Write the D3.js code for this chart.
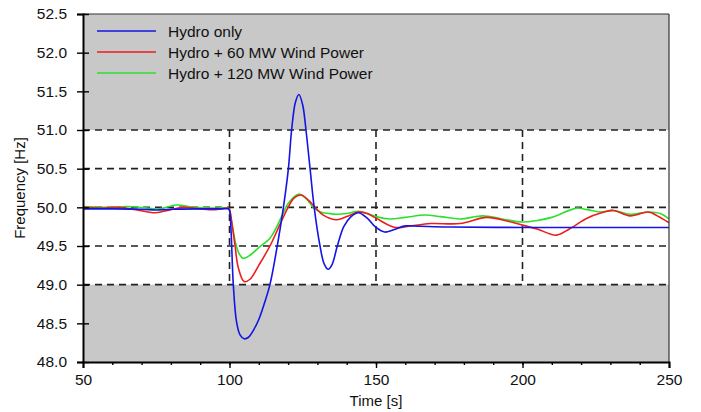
<!DOCTYPE html>
<html>
<head>
<meta charset="utf-8">
<script src="https://cdn.jsdelivr.net/npm/d3@7/dist/d3.min.js"></script>
<style>
  body { margin: 0; background: #fff; }
  svg text { font-family: "Liberation Sans", Arial, sans-serif; fill: #111; }
</style>
</head>
<body>
<div id="chart"></div>
<script>
// values
var xTicks = [50, 100, 150, 200, 250];
var yTicks = [48.0, 48.5, 49.0, 49.5, 50.0, 50.5, 51.0, 51.5, 52.0, 52.5];
var gridY = [49.0, 49.5, 50.0, 50.5, 51.0];
var gridX = [100, 150, 200];
var bandLow = 49.0, bandHigh = 51.0;

var seriesNames = ["Hydro only", "Hydro + 60 MW Wind Power", "Hydro + 120 MW Wind Power"];
var seriesColors = ["#1414e6", "#ee1c1c", "#2ee02e"];

var hydroTime = [50, 60, 70, 75, 80, 90, 97, 99.6, 100, 100.5, 101.3, 102.4, 103.6, 105, 106.5, 108, 110, 112, 113.8, 116.3, 118.4,
  120.1, 121.2, 122.5, 123.7, 125, 126.1, 127.5, 128.9, 130.9, 132.3, 133.7, 135, 136.8, 139, 141.5, 144, 147, 150,
  153, 156, 160, 165, 175, 200, 225, 250];
var hydroFreq = [49.98, 49.98, 49.975, 49.965, 49.975, 49.98, 49.98, 49.98, 49.96, 49.72, 49.0, 48.52, 48.35, 48.30, 48.32, 48.40, 48.55, 48.77, 49.0, 49.5, 50.0,
  50.5, 51.0, 51.36, 51.46, 51.32, 51.0, 50.5, 50.0, 49.5, 49.27, 49.2, 49.26, 49.5, 49.75, 49.88, 49.93, 49.86, 49.74,
  49.68, 49.71, 49.76, 49.755, 49.745, 49.74, 49.74, 49.74];

var wind60Time = [50, 56, 62, 68, 74.6, 80, 84, 90, 95, 99.6, 100, 100.8, 101.9, 103, 105, 107, 110, 113.8, 117, 120, 122, 124.4,
  127, 129.2, 132, 136.6, 140, 144, 147, 150, 156.5, 162, 168.5, 178.7, 187.8, 195, 200, 205, 211.5, 216, 222, 227, 231,
  236.7, 243, 246, 250];
var wind60Freq = [50.0, 49.99, 50.0, 49.97, 49.93, 49.97, 50.0, 49.98, 49.97, 49.99, 49.97, 49.8, 49.5, 49.22, 49.04, 49.07, 49.25, 49.5, 49.76, 50.0, 50.12, 50.16,
  50.09, 50.0, 49.9, 49.84, 49.88, 49.94, 49.92, 49.86, 49.74, 49.76, 49.79, 49.79, 49.87, 49.82, 49.77, 49.72, 49.64, 49.72, 49.86, 49.93, 49.96,
  49.89, 49.94, 49.89, 49.80];

var wind120Time = [50, 58, 65, 72, 76, 82, 88, 95, 99.6, 100, 100.8, 102, 103.3, 104.7, 107, 110, 113.8, 116, 118, 120, 123.5, 126,
  128.6, 131, 134, 136.6, 140, 144, 147, 150, 154.8, 160, 166.7, 172, 178.7, 186.5, 193, 200, 205, 210, 218.5, 222, 226.5,
  231, 236.7, 243, 247, 250];
var wind120Freq = [50.01, 50.0, 50.01, 49.99, 49.98, 50.03, 50.0, 49.99, 49.99, 49.97, 49.8, 49.55, 49.4, 49.34, 49.38, 49.48, 49.6, 49.74, 49.9, 50.05, 50.17, 50.12,
  50.0, 49.94, 49.92, 49.91, 49.92, 49.95, 49.92, 49.88, 49.85, 49.87, 49.9, 49.88, 49.85, 49.89, 49.85, 49.81, 49.83, 49.87, 49.99, 49.97, 49.94,
  49.96, 49.91, 49.94, 49.92, 49.85];

var W = 701, H = 412;
var m = {left: 83, right: 32, top: 14, bottom: 50};

var svg = d3.select("#chart").append("svg").attr("width", W).attr("height", H);

var x = d3.scaleLinear().domain([50, 250]).range([m.left, W - m.right]);
var y = d3.scaleLinear().domain([48, 52.5]).range([H - m.bottom, m.top]);

// grey bands outside 49..51 Hz
svg.append("rect").attr("x", x(50)).attr("y", y(52.5))
  .attr("width", x(250) - x(50)).attr("height", y(bandHigh) - y(52.5)).attr("fill", "#c8c8c8");
svg.append("rect").attr("x", x(50)).attr("y", y(bandLow))
  .attr("width", x(250) - x(50)).attr("height", y(48) - y(bandLow)).attr("fill", "#c8c8c8");

// dashed grid
svg.selectAll(".gy").data(gridY).enter().append("line")
  .attr("x1", x(50)).attr("x2", x(250)).attr("y1", d => y(d)).attr("y2", d => y(d))
  .attr("stroke", "#222").attr("stroke-width", 1.6).attr("stroke-dasharray", "7,5");
svg.selectAll(".gx").data(gridX).enter().append("line")
  .attr("x1", d => x(d)).attr("x2", d => x(d)).attr("y1", y(bandHigh)).attr("y2", y(bandLow))
  .attr("stroke", "#222").attr("stroke-width", 1.6).attr("stroke-dasharray", "7,5");

// curves
svg.append("clipPath").attr("id", "clip").append("rect")
  .attr("x", x(50)).attr("y", y(52.5)).attr("width", x(250) - x(50)).attr("height", y(48) - y(52.5));

var line = d3.line().x(d => x(d[0])).y(d => y(d[1])).curve(d3.curveCatmullRom.alpha(0.5));
var allSeries = [d3.zip(hydroTime, hydroFreq), d3.zip(wind60Time, wind60Freq), d3.zip(wind120Time, wind120Freq)];

[2, 1, 0].forEach(function(i) {
  svg.append("path").datum(allSeries[i])
    .attr("clip-path", "url(#clip)")
    .attr("d", line)
    .attr("fill", "none")
    .attr("stroke", seriesColors[i])
    .attr("stroke-width", 1.6);
});

// frame: thin top / right
svg.append("line").attr("x1", x(50)).attr("x2", x(250)).attr("y1", y(52.5)).attr("y2", y(52.5))
  .attr("stroke", "#333").attr("stroke-width", 1.2);
svg.append("line").attr("x1", x(250)).attr("x2", x(250)).attr("y1", y(52.5)).attr("y2", y(48))
  .attr("stroke", "#333").attr("stroke-width", 1.2);

// y axis, ticks crossing the line
var yAxis = svg.append("g").attr("transform", "translate(" + x(50) + ",0)")
  .call(d3.axisLeft(y).tickValues(yTicks).tickFormat(d3.format(".1f")).tickSize(6).tickPadding(10));
yAxis.select(".domain").attr("stroke", "#000").attr("stroke-width", 2);
yAxis.selectAll(".tick line").attr("x1", 6).attr("stroke", "#000").attr("stroke-width", 1.4);
yAxis.selectAll(".tick text").style("font-size", "15.5px").attr("fill", "#111");

// x axis with minor ticks every 10 s
var xAxisMinor = svg.append("g").attr("transform", "translate(0," + y(48) + ")")
  .call(d3.axisBottom(x).tickValues(d3.range(60, 250, 10)).tickFormat("").tickSize(3));
xAxisMinor.select(".domain").remove();
xAxisMinor.selectAll(".tick line").attr("stroke", "#000").attr("stroke-width", 1.4);

var xAxis = svg.append("g").attr("transform", "translate(0," + y(48) + ")")
  .call(d3.axisBottom(x).tickValues(xTicks).tickSize(6).tickPadding(6));
xAxis.select(".domain").attr("stroke", "#000").attr("stroke-width", 2);
xAxis.selectAll(".tick line").attr("stroke", "#000").attr("stroke-width", 1.4);
xAxis.selectAll(".tick text").style("font-size", "15.5px").attr("fill", "#111");

// axis titles
svg.append("text").attr("x", x(150)).attr("y", 406).attr("text-anchor", "middle")
  .style("font-size", "15px").text("Time [s]");
svg.append("text").attr("transform", "translate(25," + y(50.25) + ") rotate(-90)")
  .attr("text-anchor", "middle").style("font-size", "15px").text("Frequency [Hz]");

// legend
var legend = svg.append("g");
seriesNames.forEach(function(name, i) {
  var ly = 31 + i * 21;
  legend.append("line").attr("x1", 97).attr("x2", 156).attr("y1", ly).attr("y2", ly)
    .attr("stroke", seriesColors[i]).attr("stroke-width", 1.6);
  legend.append("text").attr("x", 168).attr("y", ly + 5.5).style("font-size", "15.5px").text(name);
});
</script>
</body>
</html>
